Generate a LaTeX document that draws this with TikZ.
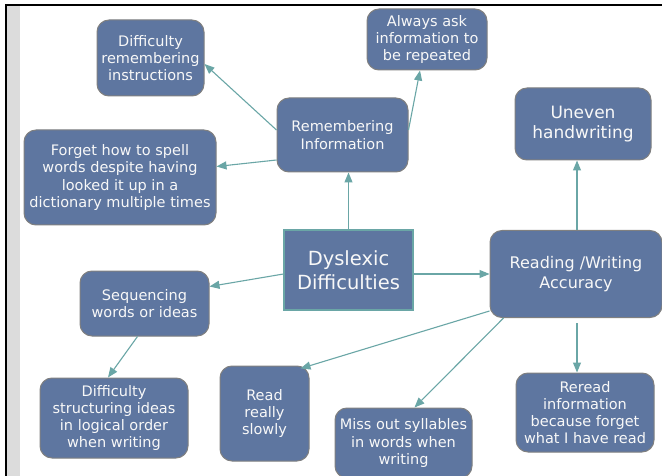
\documentclass[tikz,border=0pt]{standalone}
\usepackage{fontspec}
\setmainfont{DejaVu Sans}
\usetikzlibrary{arrows.meta,calc}
\definecolor{boxfill}{RGB}{94,118,160}
\definecolor{boxline}{RGB}{128,128,128}
\definecolor{teal2}{RGB}{106,166,166}
\definecolor{stripgray}{RGB}{220,220,220}
\definecolor{txt}{RGB}{248,248,248}
\begin{document}
\begin{tikzpicture}[x=1pt,y=-1pt,
  box/.style={draw=boxline,line width=1pt,fill=boxfill,rounded corners=12pt,
    text=txt,align=center,inner sep=0pt,font=\fontsize{14.5}{17.2}\selectfont},
  mainbox/.style={draw=teal2,line width=1.1pt,fill=boxfill,text=txt,align=center,
    inner sep=0pt,font=\fontsize{19.5}{24}\selectfont},
  arr/.style={draw=teal2,line width=1.1pt,-{Triangle[length=10pt,width=8pt]}}]
\useasboundingbox (0,0) rectangle (662,476);
\fill[white] (0,0) rectangle (662,476);
\fill[stripgray] (7,6) rectangle (20,476);
\draw[black,line width=2.2pt] (6,476) -- (6,5) -- (662,5);

\node[box,minimum width=107pt,minimum height=76pt] (dri) at (150.5,58) {Difficulty\\remembering\\instructions};
\node[box,minimum width=120pt,minimum height=61pt] (ask) at (427,39.5) {Always ask\\information to\\be repeated};
\node[box,minimum width=131pt,minimum height=74pt] (rem) at (342.5,135) {Remembering\\Information};
\node[box,minimum width=192pt,minimum height=95pt] (fgt) at (120,177.5) {Forget how to spell\\words despite having\\looked it up in a\\dictionary multiple times};
\node[box,minimum width=136pt,minimum height=72pt,font=\fontsize{17}{20}\selectfont] (unev) at (583,124) {Uneven\\handwriting};
\node[mainbox,minimum width=129pt,minimum height=80pt] (dys) at (348.5,270) {Dyslexic\\Difficulties};
\node[box,minimum width=172pt,minimum height=87pt,font=\fontsize{16}{19.5}\selectfont] (rwa) at (576,274) {Reading /Writing\\Accuracy};
\node[box,minimum width=129pt,minimum height=65pt] (seq) at (144.5,303.5) {Sequencing\\words or ideas};
\node[box,minimum width=148pt,minimum height=80pt] (dsi) at (114,418) {Difficulty\\structuring ideas\\in logical order\\when writing};
\node[box,minimum width=89pt,minimum height=95pt] (rrs) at (264.5,413.5) {Read\\really\\slowly};
\node[box,minimum width=137pt,minimum height=70pt] (mis) at (403.5,443) {Miss out syllables\\in words when\\writing};
\node[box,minimum width=138pt,minimum height=79pt] (rer) at (585,412.5) {Reread\\information\\because forget\\what I have read};

\draw[arr] ($(rem.west)+(0,-5)$) -- ($(dri.east)+(0,6)$);
\draw[arr] ($(rem.west)+(0,25)$) -- ($(fgt.east)+(0,-11)$);
\draw[arr] ($(rem.east)+(0,-5)$) -- ($(ask.south)+(-7,0)$);
\draw[arr] (dys.north) -- (dys.north |- rem.south);
\draw[arr] ($(dys.east)+(0,4)$) -- (rwa.west |- {$(dys.east)+(0,4)$});
\draw[arr] ($(rwa.north)+(1,0)$) -- ($(rwa.north |- unev.south)+(1,0)$);
\draw[arr] ($(dys.west)+(0,4)$) -- ($(seq.east)+(0,-17)$);
\draw[arr] ($(seq.south)+(-7,0)$) -- ($(dsi.north)+(-6,0)$);
\draw[arr] ($(rwa.west)+(0,37)$) -- ($(rrs.north east)+(-9,3)$);
\draw[arr] ($(rwa.south west)+(14,0)$) -- ($(mis.north)+(11,0)$);
\draw[arr] ($(rwa.south)+(1,5)$) -- ($(rwa.south |- rer.north)+(1,0)$);
\end{tikzpicture}
\end{document}
